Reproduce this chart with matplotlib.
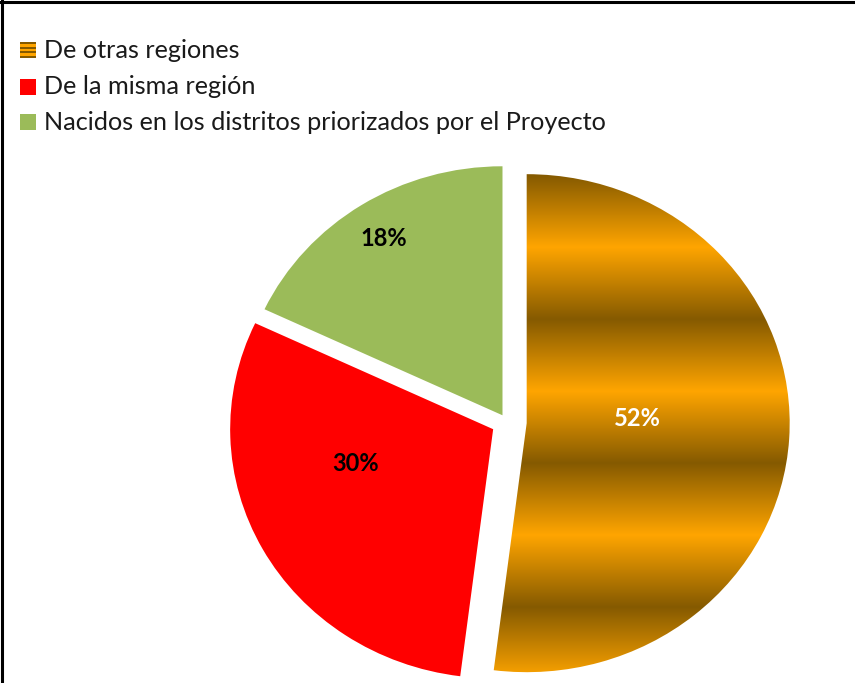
import numpy as np
import matplotlib
matplotlib.use("Agg")
import matplotlib.pyplot as plt
from matplotlib.patches import Rectangle
from matplotlib.lines import Line2D
from matplotlib.colors import to_rgb

# ---- data ----
categories = ["De otras regiones", "De la misma región",
              "Nacidos en los distritos priorizados por el Proyecto"]
values = [52, 30, 18]
pct_labels = ["52%", "30%", "18%"]

# ---- style ----
colors = ["#E39A00", "#FF0000", "#9BBB59"]
explode = [0.075, 0.06, 0.032]
label_color = ["white", "black", "black"]
label_dist = [0.42, 0.54, 0.84]
label_angle_offset = [6, -14, 0]
dark, bright = np.array(to_rgb("#855A00")), np.array(to_rgb("#FFA500"))

W, H, DPI = 855, 683, 100
cx, cy = 507, 422          # pie centre in pixels (from top-left)
rx, ry = 263, 249          # radii in pixels (slightly elliptical)

plt.rcParams["font.family"] = ["Lato", "DejaVu Sans"]
fig = plt.figure(figsize=(W / DPI, H / DPI), dpi=DPI)
ax = fig.add_axes([0, 0, 1, 1])

wedges, _ = ax.pie(values, colors=colors, explode=explode, startangle=90,
                   counterclock=False, radius=1.0,
                   wedgeprops=dict(linewidth=0, antialiased=True))
ax.set_aspect("auto")
ax.axis("off")

# gradient (horizontal bands) for the first wedge
g = wedges[0]
ys = np.linspace(1.15, -1.15, 800)
period, y0 = 0.578, 0.99
ph = ((ys - y0) / period) % 1.0
t = 1 - 2 * np.minimum(ph, 1 - ph)      # triangle wave: 1 = dark
img = (t[:, None] * dark + (1 - t[:, None]) * bright)[:, None, :]
img = np.repeat(img, 4, axis=1)
g.set_facecolor("none")
im = ax.imshow(img, extent=(-0.2, 1.2, -1.15, 1.15), aspect="auto",
               interpolation="bilinear", zorder=g.get_zorder())
im.set_clip_path(g)
ax.set_xlim(-cx / rx, (W - cx) / rx)
ax.set_ylim(-(H - cy) / ry, cy / ry)

# percentage labels
for w, lab, col, d, off in zip(wedges, pct_labels, label_color, label_dist,
                                label_angle_offset):
    mid = np.deg2rad((w.theta1 + w.theta2) / 2 + off)
    x = w.center[0] + d * np.cos(mid)
    y = w.center[1] + d * np.sin(mid)
    ax.text(x, y, lab, ha="center", va="center", fontsize=17,
            fontweight="bold", color=col, zorder=5)

# legend (manual)
leg_y = [50, 87, 122]
for i, (cat, yy) in enumerate(zip(categories, leg_y)):
    y_f = 1 - yy / H
    x0, sz = 20 / W, 16
    if i == 0:
        nstr = 7
        for k in range(nstr):
            fc = dark if k % 2 == 0 else bright
            fig.patches.append(Rectangle((x0, y_f - sz / 2 / H + k * sz / nstr / H),
                                         sz / W, sz / nstr / H, transform=fig.transFigure,
                                         facecolor=fc, edgecolor="none"))
    else:
        fig.patches.append(Rectangle((x0, y_f - sz / 2 / H), sz / W, sz / H,
                                     transform=fig.transFigure,
                                     facecolor=colors[i], edgecolor="none"))
    fig.text(44 / W, y_f, cat, fontsize=18.2, va="center", ha="left",
             color="#1a1a1a")

# border lines (top and left)
fig.add_artist(Line2D([0, 1], [1 - 1.5 / H, 1 - 1.5 / H], transform=fig.transFigure,
                      color="black", linewidth=2.2))
fig.add_artist(Line2D([1.5 / W, 1.5 / W], [0, 1], transform=fig.transFigure,
                      color="black", linewidth=2.2))

fig.savefig("out.png", dpi=DPI)
